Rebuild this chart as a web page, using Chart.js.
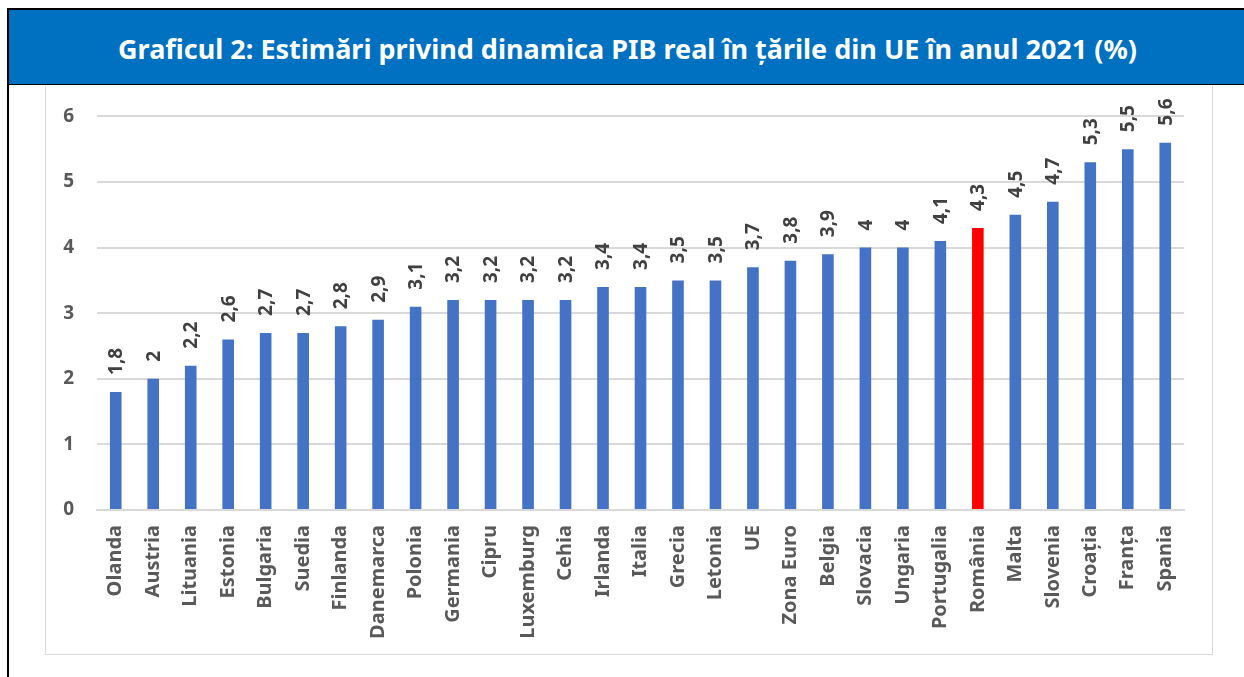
<!DOCTYPE html>
<html>
<head>
<meta charset="utf-8">
<style>
    body {
        margin: 0;
        background: #fff;
        font-family: "Noto Sans", sans-serif;
    }
    .frame {
        position: absolute;
        left: 7px;
        top: 8px;
        width: 1237px;
        height: 669px;
        border-left: 2px solid #000;
        border-top: 2px solid #000;
    }
    .header {
        position: absolute;
        left: 0;
        top: 0;
        width: 100%;
        height: 75px;
        background: #0070C0;
        border-bottom: 1px solid #000;
        color: #fff;
        font-weight: bold;
        font-size: 27px;
        text-align: center;
        line-height: 78px;
        box-sizing: border-box;
        z-index: 2;
    }
    .box {
        position: absolute;
        left: 36px;
        top: 76px;
        width: 1166px;
        height: 568px;
        border: 1px solid #d9d9d9;
        border-top: none;
    }
    .plot {
        position: absolute;
        left: 0;
        top: -4px;
        width: 1166px;
        height: 572px;
    }
</style>
</head>
<body>
<div class="frame">
    <div class="header">Graficul 2: Estimări privind dinamica PIB real în țările din UE în anul 2021 (%)</div>
    <div class="box"><div class="plot"><canvas id="chart"></canvas></div></div>
</div>

<script src="https://cdn.jsdelivr.net/npm/chart.js@4/dist/chart.umd.min.js"></script>
<script>
    const countries = ['Olanda', 'Austria', 'Lituania', 'Estonia', 'Bulgaria', 'Suedia', 'Finlanda',
        'Danemarca', 'Polonia', 'Germania', 'Cipru', 'Luxemburg', 'Cehia', 'Irlanda', 'Italia',
        'Grecia', 'Letonia', 'UE', 'Zona Euro', 'Belgia', 'Slovacia', 'Ungaria', 'Portugalia',
        'România', 'Malta', 'Slovenia', 'Croația', 'Franța', 'Spania'];
    const growth = [1.8, 2, 2.2, 2.6, 2.7, 2.7, 2.8, 2.9, 3.1, 3.2, 3.2, 3.2, 3.2, 3.4, 3.4,
        3.5, 3.5, 3.7, 3.8, 3.9, 4, 4, 4.1, 4.3, 4.5, 4.7, 5.3, 5.5, 5.6];
    const highlight = 'România';
    const yTicks = [0, 1, 2, 3, 4, 5, 6];

    const textColor = '#595959';
    const barColors = countries.map(c => c === highlight ? '#FF0000' : '#4472C4');

    // value labels drawn rotated above each bar, with comma decimals
    const valueLabels = {
        id: 'valueLabels',
        afterDatasetsDraw(chart) {
            const ctx = chart.ctx;
            const meta = chart.getDatasetMeta(0);
            ctx.save();
            ctx.font = 'bold 19px "Noto Sans"';
            ctx.fillStyle = '#404040';
            ctx.textAlign = 'left';
            ctx.textBaseline = 'middle';
            meta.data.forEach((bar, i) => {
                ctx.save();
                ctx.translate(bar.x, bar.y - 17);
                ctx.rotate(-Math.PI / 2);
                ctx.fillText(String(growth[i]).replace('.', ','), 0, 1);
                ctx.restore();
            });
            ctx.restore();
        }
    };

    new Chart(document.getElementById('chart'), {
        type: 'bar',
        data: {
            labels: countries,
            datasets: [{
                data: growth,
                backgroundColor: barColors,
                categoryPercentage: 1,
                barPercentage: 0.31
            }]
        },
        options: {
            responsive: true,
            maintainAspectRatio: false,
            animation: false,
            layout: { padding: { top: 14, right: 28, left: 0, bottom: 0 } },
            plugins: {
                legend: { display: false },
                tooltip: { enabled: false }
            },
            scales: {
                x: {
                    grid: { display: false },
                    border: { color: '#d9d9d9', width: 2 },
                    ticks: {
                        color: textColor,
                        font: { family: 'Noto Sans', size: 20, weight: 'bold' },
                        minRotation: 90,
                        maxRotation: 90,
                        autoSkip: false,
                        padding: 7
                    },
                    afterFit: s => { s.height = 144; }
                },
                y: {
                    min: 0,
                    max: 6,
                    afterBuildTicks: s => { s.ticks = yTicks.map(v => ({ value: v })); },
                    grid: { color: '#d9d9d9', lineWidth: 2, drawTicks: false },
                    border: { display: false },
                    ticks: {
                        color: textColor,
                        font: { family: 'Noto Sans', size: 19, weight: 'bold' },
                        padding: 23
                    },
                    afterFit: s => { s.width = 51; }
                }
            }
        },
        plugins: [valueLabels]
    });
</script>
</body>
</html>
